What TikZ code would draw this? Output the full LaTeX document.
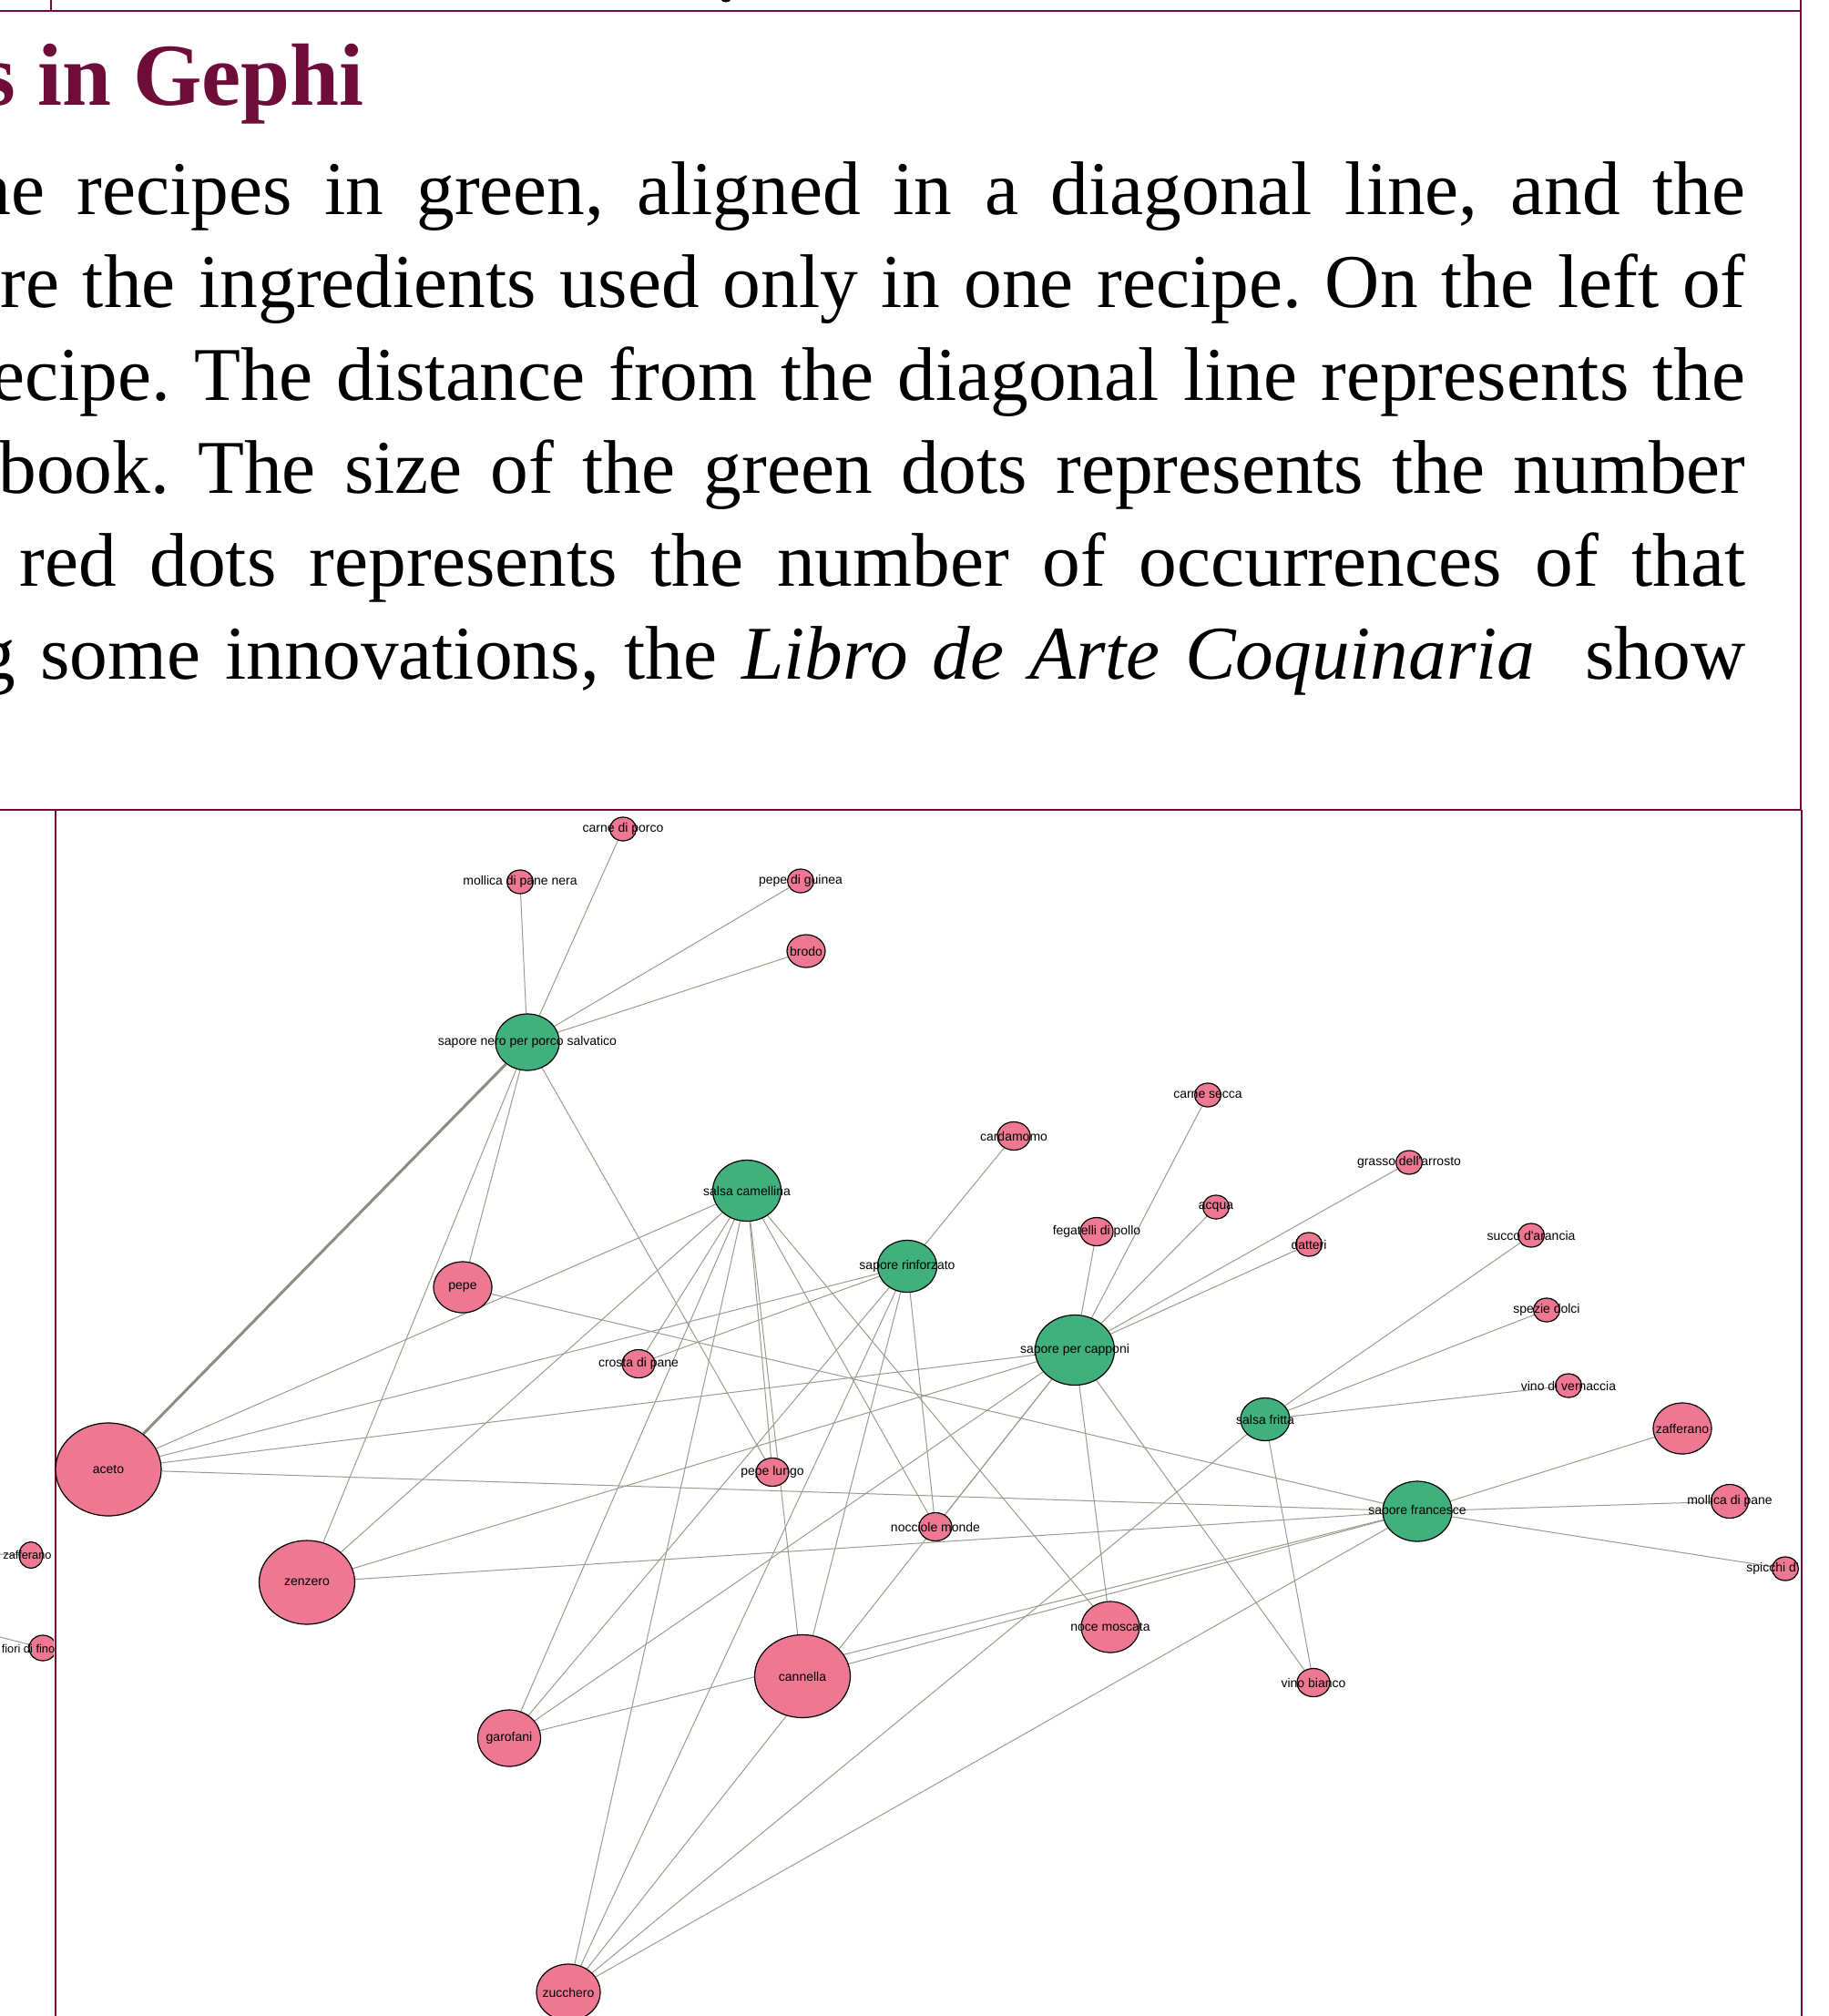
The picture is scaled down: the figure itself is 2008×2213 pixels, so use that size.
\documentclass[tikz,border=0pt]{standalone}
\usepackage{fontspec}
\setmainfont{Liberation Serif}
\newfontfamily\gephifont{Liberation Sans}
\usepackage{tikz}
\usetikzlibrary{shapes.geometric,backgrounds}
\frenchspacing

\definecolor{recipegreen}{RGB}{64,176,124}
\definecolor{ingrpink}{RGB}{238,120,146}
\definecolor{edgegray}{RGB}{154,154,141}
\definecolor{edgedark}{RGB}{140,140,128}
\definecolor{framered}{RGB}{110,12,58}

\tikzstyle{Frame} = [draw=framered, line width=1.2pt]
\tikzstyle{Title} = [inner sep=0pt, anchor=base east, text=framered, font=\fontsize{48.5pt}{58pt}\selectfont\bfseries]
\tikzstyle{Body} = [inner sep=0pt, anchor=base west, font=\fontsize{41.7pt}{50pt}\selectfont]
\tikzstyle{Recipe} = [draw=black, line width=0.6pt, fill=recipegreen, ellipse, inner sep=0pt]
\tikzstyle{Ingredient} = [draw=black, line width=0.6pt, fill=ingrpink, ellipse, inner sep=0pt]
\tikzstyle{Label} = [inner sep=0pt, font=\gephifont\fontsize{7pt}{8pt}\selectfont]
\tikzstyle{Edge} = [draw=edgegray, line width=0.5pt]
\tikzstyle{Dot} = [minimum width=14.5pt, minimum height=13pt]
\tikzstyle{SmallDot} = [minimum width=18pt, minimum height=15.5pt]

\begin{document}
\begin{tikzpicture}[x=0.5pt, y=-0.5pt]
    \useasboundingbox (0,0) rectangle (2008,2213);

    % slide frame
    \draw[Frame] (0,12) -- (1977,12);
    \draw[Frame, line width=0.8pt] (56,0) -- (56,12);
    \draw[Frame, line width=1pt] (1977,0) -- (1977,889);
    \draw[Frame] (0,889) -- (1978,889);
    \draw[Frame, line width=1pt] (61,889) -- (61,2213);
    \draw[Frame, line width=1pt] (1978,889) -- (1978,2213);
    \fill[black] (797,0) ellipse [x radius=2.5pt, y radius=1.2pt];

    % heading and text
    \node[Title] (title) at (400,115) {s in Gephi};
    \node[Body] (line1) at (-30,235) {\makebox[973pt][s]{he recipes in green, aligned in a diagonal line, and the}};
    \node[Body] (line2) at (0,337)   {\makebox[958pt][s]{re the ingredients used only in one recipe. On the left of}};
    \node[Body] (line3) at (-10,439) {\makebox[963pt][s]{ecipe. The distance from the diagonal line represents the}};
    \node[Body] (line4) at (-2,541)  {\makebox[959pt][s]{book. The size of the green dots represents the number}};
    \node[Body] (line5) at (21,643)  {\makebox[947.5pt][s]{red dots represents the number of occurrences of that}};
    \node[Body] (line6) at (-25,745) {\makebox[970.5pt][s]{g some innovations, the \textit{Libro de Arte Coquinaria}\ \ show}};

    % recipes
    \node[Recipe, minimum width=35pt, minimum height=31pt, label={[Label]center:sapore nero per porco salvatico}] (nero) at (579,1144) {};
    \node[Recipe, minimum width=37.5pt, minimum height=33.5pt, label={[Label]center:salsa camellina}] (camellina) at (820,1307) {};
    \node[Recipe, minimum width=32.5pt, minimum height=28.5pt, label={[Label]center:sapore rinforzato}] (rinforzato) at (996,1390) {};
    \node[Recipe, minimum width=43.5pt, minimum height=38.5pt, label={[Label]center:sapore per capponi}] (capponi) at (1180,1482) {};
    \node[Recipe, minimum width=27pt, minimum height=23.5pt, label={[Label]center:salsa fritta}] (fritta) at (1389,1558) {};
    \node[Recipe, minimum width=38pt, minimum height=33pt, label={[Label]center:sapore francesce}] (francesce) at (1556,1659) {};

    % ingredients
    \node[Ingredient, Dot, label={[Label]center:carne di porco}] (carneporco) at (684,910) {};
    \node[Ingredient, Dot, label={[Label]center:mollica di pane nera}] (mollicanera) at (571,968) {};
    \node[Ingredient, Dot, label={[Label]center:pepe di guinea}] (pepeguinea) at (879,967) {};
    \node[Ingredient, minimum width=21pt, minimum height=18pt, label={[Label]center:brodo}] (brodo) at (885,1044) {};
    \node[Ingredient, Dot, label={[Label]center:carne secca}] (carnesecca) at (1326,1202) {};
    \node[Ingredient, SmallDot, label={[Label]center:cardamomo}] (cardamomo) at (1113,1247) {};
    \node[Ingredient, Dot, label={[Label]center:grasso dell\textquotesingle arrosto}] (grasso) at (1547,1276) {};
    \node[Ingredient, Dot, label={[Label]center:acqua}] (acqua) at (1335,1325) {};
    \node[Ingredient, SmallDot, label={[Label]center:fegatelli di pollo}] (fegatelli) at (1204,1352) {};
    \node[Ingredient, Dot, label={[Label]center:succo d\textquotesingle arancia}] (succo) at (1681,1356) {};
    \node[Ingredient, Dot, label={[Label]center:datteri}] (datteri) at (1437,1366) {};
    \node[Ingredient, minimum width=32pt, minimum height=28pt, label={[Label]center:pepe}] (pepe) at (508,1413) {};
    \node[Ingredient, Dot, label={[Label]center:spezie dolci}] (spezie) at (1698,1438) {};
    \node[Ingredient, SmallDot, label={[Label]center:crosta di pane}] (crosta) at (701,1497) {};
    \node[Ingredient, Dot, label={[Label]center:vino di vernaccia}] (vernaccia) at (1722,1521) {};
    \node[Ingredient, minimum width=32pt, minimum height=28pt, label={[Label]center:zafferano}] (zafferano) at (1847,1568) {};
    \node[Ingredient, minimum width=58pt, minimum height=51pt, label={[Label]center:aceto}] (aceto) at (119,1613) {};
    \node[Ingredient, SmallDot, label={[Label]center:pepe lungo}] (pepelungo) at (848,1616) {};
    \node[Ingredient, minimum width=20.5pt, minimum height=18.5pt, label={[Label]center:mollica di pane}] (mollica) at (1899,1648) {};
    \node[Ingredient, SmallDot, label={[Label]center:nocciole monde}] (nocciole) at (1027,1676) {};
    \node[Ingredient, Dot] (spicchi) at (1960,1722) {};
    \node[Label, anchor=west] (spicchitext) at (1917,1722) {spicchi d\textquotesingle};
    \node[Ingredient, minimum width=52.5pt, minimum height=46pt, label={[Label]center:zenzero}] (zenzero) at (337,1737) {};
    \node[Ingredient, minimum width=32pt, minimum height=28pt, label={[Label]center:noce moscata}] (nocemoscata) at (1219,1786) {};
    \node[Ingredient, minimum width=52.5pt, minimum height=45.5pt, label={[Label]center:cannella}] (cannella) at (881,1840) {};
    \node[Ingredient, SmallDot, label={[Label]center:vino bianco}] (vinobianco) at (1442,1847) {};
    \node[Ingredient, minimum width=34.5pt, minimum height=31pt, label={[Label]center:garofani}] (garofani) at (559,1908) {};
    \node[Ingredient, minimum width=35pt, minimum height=31pt, label={[Label]center:zucchero}] (zucchero) at (624,2187) {};

    % piece of the neighbouring graph, cut by the frame
    \begin{scope}
        \clip (0,889) rectangle (59,2213);
        \coordinate (zafferanoin) at (0,1706);
        \coordinate (fioriin) at (0,1797);
        \draw[Edge] (zafferanoin) to (34,1707);
        \node[Ingredient, minimum width=13pt, minimum height=14.5pt, label={[Label, font=\gephifont\fontsize{6.4pt}{7pt}\selectfont, xshift=-2pt]center:zafferano}] (zafferanoleft) at (34,1707) {};
        \node[Ingredient, minimum width=15pt, minimum height=14pt] (fiori) at (47,1809) {};
        \draw[Edge] (fioriin) to (fiori);
        \node[Label, font=\gephifont\fontsize{6.4pt}{7pt}\selectfont] (fioritext) at (31,1810) {fiori di fino};
    \end{scope}

    \begin{pgfonlayer}{background}
    % sapore nero per porco salvatico
    \draw[Edge] (nero) to (carneporco);
    \draw[Edge] (nero) to (mollicanera);
    \draw[Edge] (nero) to (pepeguinea);
    \draw[Edge] (nero) to (brodo);
    \draw[Edge, draw=edgedark, line width=1.5pt] (nero) to (aceto);
    \draw[Edge] (nero) to (pepe);
    \draw[Edge] (nero) to (zenzero);
    \draw[Edge] (nero) to (pepelungo);
    % salsa camellina
    \draw[Edge] (camellina) to (aceto);
    \draw[Edge] (camellina) to (zenzero);
    \draw[Edge] (camellina) to (crosta);
    \draw[Edge] (camellina) to (garofani);
    \draw[Edge] (camellina) to (zucchero);
    \draw[Edge] (camellina) to (pepelungo);
    \draw[Edge] (camellina) to (cannella);
    \draw[Edge] (camellina) to (nocciole);
    \draw[Edge] (camellina) to (nocemoscata);
    % sapore rinforzato
    \draw[Edge] (rinforzato) to (cardamomo);
    \draw[Edge] (rinforzato) to (aceto);
    \draw[Edge] (rinforzato) to (crosta);
    \draw[Edge] (rinforzato) to (nocciole);
    \draw[Edge] (rinforzato) to (cannella);
    \draw[Edge] (rinforzato) to (zucchero);
    \draw[Edge] (rinforzato) to (garofani);
    % sapore per capponi
    \draw[Edge] (capponi) to (fegatelli);
    \draw[Edge] (capponi) to (carnesecca);
    \draw[Edge] (capponi) to (acqua);
    \draw[Edge] (capponi) to (grasso);
    \draw[Edge] (capponi) to (datteri);
    \draw[Edge] (capponi) to (aceto);
    \draw[Edge] (capponi) to (zenzero);
    \draw[Edge] (capponi) to (nocciole);
    \draw[Edge] (capponi) to (garofani);
    \draw[Edge] (capponi) to (zucchero);
    \draw[Edge] (capponi) to (nocemoscata);
    \draw[Edge] (capponi) to (vinobianco);
    % salsa fritta
    \draw[Edge] (fritta) to (succo);
    \draw[Edge] (fritta) to (spezie);
    \draw[Edge] (fritta) to (vernaccia);
    \draw[Edge] (fritta) to (vinobianco);
    \draw[Edge] (fritta) to (zucchero);
    % sapore francesce
    \draw[Edge] (francesce) to (zafferano);
    \draw[Edge] (francesce) to (mollica);
    \draw[Edge] (francesce) to (spicchi);
    \draw[Edge] (francesce) to (aceto);
    \draw[Edge] (francesce) to (pepe);
    \draw[Edge] (francesce) to (zenzero);
    \draw[Edge] (francesce) to (garofani);
    \draw[Edge] (francesce) to (cannella);
    \draw[Edge] (francesce) to (zucchero);
    \end{pgfonlayer}
\end{tikzpicture}
\end{document}
